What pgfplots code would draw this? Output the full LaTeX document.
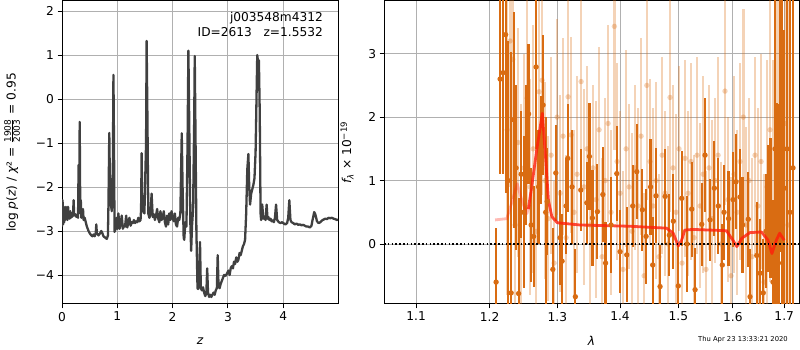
\documentclass[border=0pt]{standalone}
\usepackage{fontspec}
\setmainfont{DejaVu Sans}
\usepackage{pgfplots}
\usepackage{pgfplotstable}
\pgfplotsset{compat=1.18}
\definecolor{curve}{RGB}{64,64,64}
\definecolor{dorange}{RGB}{217,108,18}
\definecolor{gridgray}{RGB}{176,176,176}
\definecolor{model}{RGB}{255,30,10}

\pgfplotstableread{
x y e
1.2091 -0.60 0.85
1.2149 2.60 1.50
1.2192 2.70 1.60
1.2228 3.30 2.50
1.2264 1.00 2.20
1.2308 -0.77 3.80
1.2344 1.96 1.70
1.2381 1.20 1.30
1.2417 -0.78 1.50
1.2455 1.10 1.00
1.2492 0.50 1.20
1.2528 1.40 1.10
1.2565 2.05 1.10
1.2603 0.30 0.90
1.2640 0.12 0.80
1.2677 2.79 1.30
1.2714 0.90 0.90
1.2752 1.48 0.85
1.2782 2.19 1.10
1.2821 0.50 1.50
1.2843 0.67 0.85
1.2930 -0.40 0.65
1.2976 1.12 0.75
1.3042 0.10 0.75
1.3073 -0.27 0.75
1.3135 0.60 0.75
1.3161 1.35 0.85
1.3228 0.90 0.90
1.3280 -0.83 0.75
1.3365 0.85 0.65
1.3460 0.65 0.65
1.3502 1.38 0.85
1.3550 0.41 0.75
1.3630 0.51 0.75
1.3718 0.78 0.75
1.3763 -0.30 0.65
1.3852 0.30 0.75
1.3946 1.11 0.75
1.4001 -0.12 0.65
1.4112 -0.17 0.75
1.4212 0.60 0.65
1.4280 1.14 0.75
1.4375 0.54 0.65
1.4438 0.12 0.75
1.4515 0.90 0.75
1.4552 -0.33 0.75
1.4609 0.76 0.75
1.4679 -0.67 0.65
1.4766 0.75 0.75
1.4841 0.14 0.65
1.4911 0.36 0.75
1.4999 -0.66 0.65
1.5060 0.72 0.75
1.5155 0.00 0.75
1.5239 0.55 0.75
1.5299 -0.72 0.65
1.5421 0.31 0.65
1.5481 1.40 0.90
1.5573 0.38 0.65
1.5652 0.88 0.75
1.5726 0.60 0.75
1.5801 -0.33 0.65
1.5833 0.50 0.75
1.5917 0.40 0.75
1.6002 0.70 0.75
1.6059 0.98 0.75
1.6135 0.74 0.75
1.6183 0.30 0.75
1.6293 0.39 0.75
1.6327 -0.83 0.75
1.6456 -0.18 0.85
1.6521 -0.46 0.85
1.6585 -0.77 0.85
1.6639 0.20 0.90
1.6684 0.56 1.00
1.6727 0.57 1.10
1.6776 -0.60 1.30
1.6816 1.50 2.50
1.6850 0.23 2.00
1.6886 -0.30 2.50
1.6916 2.07 2.20
1.6956 1.00 3.00
1.7002 0.88 2.50
1.7056 1.50 2.50
1.7117 0.50 3.50
1.7178 1.20 3.00
}\darkdata

\pgfplotstableread{
x y e
1.2250 1.80 2.6
1.2293 3.20 2.3
1.2332 2.91 2.2
1.2366 0.30 1.95
1.2410 1.60 1.8
1.2455 0.50 1.7
1.2499 1.20 1.8
1.2543 2.30 1.7
1.2588 0.90 1.7
1.2633 1.50 1.95
1.2677 0.20 1.55
1.2722 2.40 1.95
1.2767 2.58 1.8
1.2813 1.00 1.55
1.2858 0.40 1.3
1.2904 1.40 1.55
1.2950 -0.30 1.3
1.2996 2.00 1.55
1.3042 0.80 1.55
1.3088 1.70 1.55
1.3135 0.10 1.3
1.3166 2.32 1.7
1.3213 1.72 1.55
1.3259 0.50 1.3
1.3306 1.10 1.55
1.3370 2.56 1.7
1.3417 0.90 1.55
1.3465 1.50 1.3
1.3513 0.30 1.55
1.3561 1.20 1.3
1.3609 0.70 1.55
1.3657 1.80 1.3
1.3706 -0.20 1.55
1.3755 1.00 1.3
1.3804 1.90 1.55
1.3852 0.50 1.3
1.3907 3.43 1.95
1.3951 1.30 1.55
1.4001 0.80 1.3
1.4051 -0.40 1.55
1.4101 1.50 1.55
1.4151 0.90 1.3
1.4201 0.20 1.55
1.4251 1.20 1.3
1.4302 0.60 1.55
1.4353 1.70 1.55
1.4404 -0.50 1.3
1.4450 2.50 1.8
1.4506 1.30 1.3
1.4557 0.60 1.55
1.4609 1.00 1.55
1.4661 -0.20 1.3
1.4714 1.40 1.55
1.4766 0.80 1.3
1.4818 0.00 1.55
1.4853 2.31 1.8
1.4906 1.20 1.3
1.4959 0.50 1.55
1.5012 1.50 1.3
1.5066 -0.30 1.55
1.5119 1.35 1.55
1.5173 0.80 1.3
1.5227 1.30 1.55
1.5281 0.10 1.3
1.5335 1.40 1.55
1.5390 0.60 1.3
1.5445 1.10 1.55
1.5499 -0.40 1.55
1.5554 1.20 1.3
1.5610 0.40 1.55
1.5665 1.00 1.3
1.5721 1.40 1.55
1.5777 0.00 1.3
1.5851 2.41 1.8
1.5907 0.70 1.3
1.5964 -0.50 1.55
1.6020 1.10 1.55
1.6078 0.50 1.3
1.6135 1.30 1.55
1.6198 2.00 1.7
1.6249 0.30 1.55
1.6307 1.00 1.3
1.6366 -0.20 1.55
1.6423 1.40 1.55
1.6481 0.60 1.55
1.6541 1.30 1.7
1.6599 -0.60 1.7
1.6658 0.90 2.0
1.6717 1.80 2.4
1.6776 0.40 2.5
1.6850 2.15 2.8
1.6896 1.00 3.1
1.6956 0.80 3.4
1.7016 1.90 3.4
1.7076 0.30 3.9
}\lightdata

\begin{document}
\begin{tikzpicture}
\useasboundingbox (0pt,0pt) rectangle (800pt,350pt);
\pgfplotsset{every axis/.append style={
  scale only axis,
  axis line style={line width=1pt},
  grid=major,
  major grid style={gridgray, line width=0.9pt},
  tick align=outside,
  major tick length=4.5pt,
  tick style={black, line width=0.9pt},
  xtick pos=left, ytick pos=left,
  ticklabel style={font=\fontsize{12.2}{14}\selectfont},
  label style={font=\fontsize{12.2}{14}\selectfont},
}}

\begin{axis}[at={(62pt,46pt)}, anchor=south west, width=276pt, height=303pt,
  xmin=0, xmax=4.99, ymin=-4.66, ymax=2.23,
  xtick={0,1,2,3,4}, xticklabels={0,1,2,3,4},
  ytick={-4,-3,-2,-1,0,1,2}, yticklabels={−4,−3,−2,−1,0,1,2},
  xlabel={\itshape z},
  xlabel style={at={(axis description cs:0.5,-0.122)}, anchor=center},
  ylabel={log {\itshape p}({\itshape z}) / {\itshape χ}² = $\frac{\mbox{\fontsize{9}{9}\selectfont 1908}}{\mbox{\fontsize{9}{9}\selectfont 2003}}$ = 0.95},
  ylabel style={at={(axis description cs:-0.181,0.5)}, anchor=center},
]
\addplot[curve, line width=2.3pt, line join=round] coordinates {
(0.00,-2.90) (0.01,-2.30) (0.02,-2.85) (0.03,-2.45) (0.04,-2.80) (0.05,-2.55)
(0.06,-2.75) (0.07,-2.45) (0.08,-2.70) (0.09,-2.55) (0.10,-2.75) (0.11,-2.45)
(0.12,-2.70) (0.13,-2.60) (0.14,-2.72) (0.15,-2.55) (0.16,-2.70) (0.17,-2.62)
(0.18,-2.68) (0.20,-2.62) (0.21,-2.30) (0.22,-2.65) (0.24,-2.62) (0.26,-2.68)
(0.28,-2.62) (0.29,-2.70) (0.30,-1.50) (0.31,-2.60) (0.32,-0.52) (0.33,-2.55)
(0.34,-2.30) (0.35,-2.70) (0.37,-2.62) (0.38,-2.50) (0.39,-2.75) (0.41,-2.70)
(0.43,-2.80) (0.45,-2.90) (0.48,-3.00) (0.50,-3.05) (0.53,-3.10) (0.55,-3.12)
(0.57,-3.08) (0.59,-3.12) (0.61,-3.05) (0.62,-2.85) (0.63,-3.05) (0.66,-3.10)
(0.69,-3.05) (0.71,-3.00) (0.73,-3.05) (0.75,-3.12) (0.78,-3.15) (0.81,-3.18)
(0.83,-3.10) (0.84,-2.40) (0.855,-0.77) (0.87,-2.30) (0.88,-2.35) (0.90,-2.55)
(0.92,-1.50) (0.93,0.55) (0.94,-1.00) (0.95,-3.02) (0.97,-2.95) (0.99,-2.70)
(1.00,-2.95) (1.02,-2.60) (1.04,-2.95) (1.06,-2.85) (1.08,-2.65) (1.10,-2.95)
(1.12,-2.88) (1.14,-2.90) (1.16,-2.65) (1.18,-2.92) (1.20,-2.80) (1.22,-2.70)
(1.24,-2.88) (1.26,-2.80) (1.28,-2.82) (1.30,-2.75) (1.32,-2.82) (1.34,-2.78)
(1.36,-2.80) (1.38,-2.70) (1.40,-2.78) (1.42,-2.75) (1.43,-2.50) (1.44,-1.23)
(1.45,-2.40) (1.47,-2.55) (1.49,-2.60) (1.52,-1.00) (1.53,1.32) (1.545,-0.50)
(1.56,-2.60) (1.58,-2.70) (1.60,-2.62) (1.62,-2.15) (1.64,-2.68) (1.66,-2.62)
(1.68,-2.75) (1.70,-2.65) (1.72,-2.50) (1.74,-2.72) (1.76,-2.80) (1.78,-2.55)
(1.80,-2.75) (1.82,-2.70) (1.84,-2.55) (1.86,-2.80) (1.88,-2.90) (1.90,-2.65)
(1.92,-2.85) (1.94,-2.60) (1.96,-2.75) (1.98,-2.55) (2.00,-2.70) (2.02,-2.78)
(2.04,-2.60) (2.06,-2.85) (2.08,-2.90) (2.10,-2.70) (2.12,-2.75) (2.14,-2.60)
(2.155,-1.50) (2.165,-0.78) (2.18,-2.00) (2.20,-3.15) (2.21,-3.20) (2.23,-2.80)
(2.25,-2.90) (2.27,-1.00) (2.285,1.10) (2.30,-0.50) (2.32,-2.80) (2.335,-3.45)
(2.35,-2.90) (2.37,-2.50) (2.39,-0.50) (2.40,0.98) (2.415,-1.00) (2.43,-3.00)
(2.45,-4.30) (2.46,-4.32) (2.48,-4.25) (2.495,-3.25) (2.51,-4.30) (2.53,-4.35)
(2.55,-4.28) (2.57,-4.40) (2.59,-4.48) (2.61,-4.42) (2.625,-3.85) (2.64,-4.40)
(2.66,-4.50) (2.68,-4.45) (2.70,-4.50) (2.72,-4.45) (2.74,-4.40) (2.76,-4.45)
(2.78,-4.35) (2.80,-4.30) (2.815,-3.55) (2.83,-4.25) (2.85,-4.30) (2.87,-4.20)
(2.90,-4.10) (2.93,-4.00) (2.96,-4.02) (2.99,-3.95) (3.01,-3.90) (3.03,-4.00)
(3.05,-3.85) (3.07,-3.80) (3.09,-3.85) (3.11,-3.70) (3.13,-3.75) (3.15,-3.60)
(3.17,-3.70) (3.19,-3.65) (3.21,-3.50) (3.23,-3.55) (3.25,-3.45) (3.27,-3.35)
(3.29,-3.30) (3.31,-3.20) (3.33,-2.60) (3.35,-1.60) (3.37,-1.25) (3.385,-2.00)
(3.40,-2.40) (3.42,-2.15) (3.44,-2.05) (3.46,-1.95) (3.48,-1.80) (3.50,-1.20)
(3.53,1.00) (3.545,0.85) (3.56,0.88) (3.575,-0.30) (3.59,-2.60) (3.60,-2.75)
(3.62,-2.40) (3.64,-2.72) (3.66,-2.68) (3.68,-2.75) (3.70,-2.40) (3.715,-2.72)
(3.73,-2.68) (3.75,-2.75) (3.77,-2.72) (3.79,-2.78) (3.81,-2.76) (3.83,-2.80)
(3.85,-2.70) (3.87,-2.40) (3.89,-2.75) (3.92,-2.80) (3.95,-2.82) (3.98,-2.80)
(4.01,-2.83) (4.04,-2.85) (4.07,-2.82) (4.09,-2.70) (4.11,-2.30) (4.13,-2.75)
(4.15,-2.80) (4.18,-2.82) (4.21,-2.85) (4.24,-2.83) (4.27,-2.86) (4.30,-2.85)
(4.33,-2.87) (4.36,-2.86) (4.39,-2.88) (4.42,-2.90) (4.45,-2.90) (4.48,-2.92)
(4.51,-2.88) (4.53,-2.75) (4.56,-2.57) (4.58,-2.62) (4.61,-2.78) (4.64,-2.82)
(4.67,-2.80) (4.70,-2.76) (4.73,-2.74) (4.76,-2.72) (4.79,-2.73) (4.82,-2.70)
(4.85,-2.71) (4.88,-2.70) (4.91,-2.72) (4.94,-2.73) (4.97,-2.75) (4.99,-2.74)
};
\node[anchor=north east, align=right, font=\fontsize{12.2}{15}\selectfont, inner sep=0pt]
  at (rel axis cs:0.946,0.965) {j003548m4312\\ID=2613\ \ \ z=1.5532};
\end{axis}

\begin{axis}[at={(384pt,46pt)}, anchor=south west, width=415pt, height=303pt,
  xmode=log, log basis x=10,
  xmin=1.059, xmax=1.730, ymin=-0.945, ymax=3.83,
  xtick={1.1,1.2,1.3,1.4,1.5,1.6,1.7},
  xticklabels={1.1,1.2,1.3,1.4,1.5,1.6,1.7},
  minor xtick={},
  ytick={0,1,2,3}, yticklabels={0,1,2,3},
  xlabel={\itshape λ},
  xlabel style={at={(axis description cs:0.5,-0.122)}, anchor=center},
  ylabel={{\itshape f}\textsubscript{\itshape λ} × 10\textsuperscript{−19}},
  ylabel style={at={(axis description cs:-0.089,0.5)}, anchor=center},
]
\addplot[color=dorange, only marks, mark=*, mark size=2.7pt,
  mark options={solid, draw opacity=0, fill=dorange, fill opacity=0.3},
  error bars/.cd, y dir=both, y explicit, error mark=none,
  error bar style={solid, line width=2.6pt, draw=dorange, draw opacity=0.3}]
  table[x=x, y=y, y error=e] {\lightdata};
\addplot[color=dorange, only marks, mark=*, mark size=2.7pt,
  mark options={solid, draw opacity=0, fill=dorange},
  error bars/.cd, y dir=both, y explicit, error mark=none,
  error bar style={solid, line width=2.2pt, draw=dorange}]
  table[x=x, y=y, y error=e] {\darkdata};
\addplot[model, opacity=0.3, line width=2.8pt, line join=round] coordinates {
(1.2077,0.38) (1.2245,0.40) (1.2300,0.59) (1.2397,0.95) (1.2464,0.69) (1.2539,0.48) (1.2580,0.62)
};
\addplot[model, opacity=0.8, line width=2.8pt, line join=round] coordinates {
(1.2560,0.55) (1.2611,0.90) (1.2686,1.48) (1.2771,2.06) (1.2823,1.32) (1.2863,0.69)
(1.2915,0.43) (1.3000,0.335) (1.3353,0.30) (1.4166,0.28) (1.4793,0.25) (1.4908,0.17)
(1.4999,-0.03) (1.5057,0.06) (1.5114,0.22) (1.5260,0.23) (1.5876,0.21) (1.6000,0.06)
(1.6074,-0.04) (1.6168,0.09) (1.6324,0.18) (1.6549,0.19) (1.6678,0.06) (1.6756,-0.15)
(1.6843,0.06) (1.6908,0.17) (1.7000,0.06)
};
\addplot[black, line width=1.6pt, dash pattern=on 1.6pt off 2.2pt] coordinates {(1.059,0) (1.730,0)};
\end{axis}

\node[font=\fontsize{6.8}{8}\selectfont, anchor=base east, inner sep=0pt] at (788pt,8pt) {Thu Apr 23 13:33:21 2020};
\end{tikzpicture}
\end{document}
